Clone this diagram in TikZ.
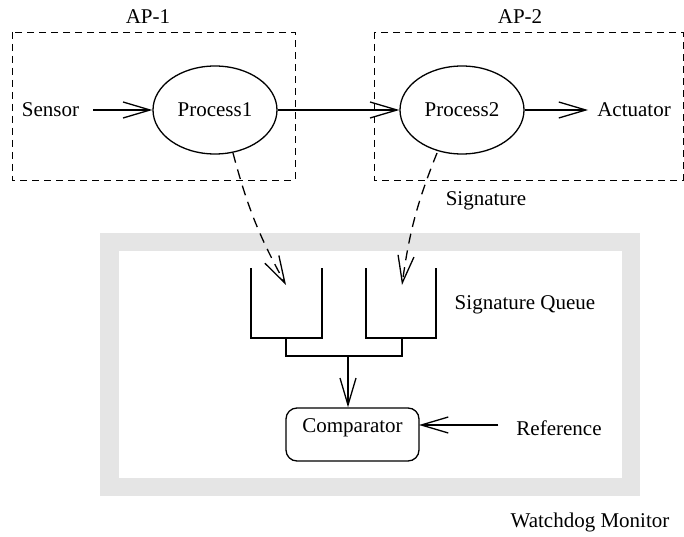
\documentclass[tikz,border=0pt]{standalone}
\usepackage{fontspec}
\setmainfont{Liberation Serif}
\usetikzlibrary{shapes.geometric,arrows.meta}
\definecolor{framegray}{RGB}{229,229,229}
\tikzset{
  lbl/.style={inner sep=0pt, font=\fontsize{21}{25}\selectfont},
  proc/.style={draw, ellipse, line width=1.3pt, minimum width=124pt, minimum height=88pt,
               inner sep=0pt, font=\fontsize{21}{25}\selectfont},
  apbox/.style={draw, line width=0.8pt, dash pattern=on 7pt off 5pt},
  flow/.style={line width=1.3pt, -{Straight Barb[length=27pt,width=16pt,line width=1.3pt]}},
  sig/.style={line width=1.3pt, dash pattern=on 10pt off 7pt,
              -{Straight Barb[length=27pt,width=16pt,line width=1.3pt]}},
  wire/.style={line width=1.3pt},
  cmpbox/.style={draw, line width=1.3pt, rounded corners=11pt, minimum width=133pt,
                 minimum height=53pt, inner sep=0pt},
}
\begin{document}
\begin{tikzpicture}[x=1pt,y=-1pt]
\useasboundingbox (0,0) rectangle (684,537);

% watchdog monitor frame
\fill[framegray] (100,233) rectangle (640,496);
\fill[white] (119,251) rectangle (622,478);

% application partitions
\draw[apbox] (12,32) rectangle (295,180);
\draw[apbox] (374,32) rectangle (683,180);
\node[lbl] (ap1) at (148,17) {AP-1};
\node[lbl] (ap2) at (520,17) {AP-2};

% processes
\node[proc] (p1) at (215,110) {Process1};
\node[proc] (p2) at (462,110) {Process2};
\node[lbl] (sensor) at (50.5,110) {Sensor};
\node[lbl] (act) at (634,110) {Actuator};

\draw[flow, shorten <=14pt] (sensor.east) -- (p1.west);
\draw[flow] (p1.east) -- (p2.west);
\draw[flow, shorten >=9pt] (p2.east) -- (act.west);

% signature queues
\coordinate (q1a) at (251,268);
\coordinate (q1b) at (251,338);
\coordinate (q1c) at (322,338);
\coordinate (q1d) at (322,268);
\coordinate (q2a) at (366,268);
\coordinate (q2b) at (366,338);
\coordinate (q2c) at (436,338);
\coordinate (q2d) at (436,268);
\draw[wire] (q1a) -- (q1b) -- (q1c) -- (q1d);
\draw[wire] (q2a) -- (q2b) -- (q2c) -- (q2d);

\coordinate (q1in) at (286,285);
\coordinate (q2in) at (402,285);
\coordinate (p1out) at (233,153);
\coordinate (p2out) at (437,153);
\draw[sig] (p1out) to[bend right=7] (q1in);
\draw[sig] (p2out) to[bend right=7] (q2in);

\node[lbl] (siglbl) at (486,201) {Signature};
\node[lbl] (queuelbl) at (525,305) {Signature Queue};

% merge into comparator
\coordinate (m1) at (286,338);
\coordinate (m2) at (402,338);
\coordinate (j1) at (286,356);
\coordinate (j2) at (402,356);
\coordinate (jm) at (348,356);
\draw[wire] (m1) -- (j1) -- (j2) -- (m2);

\node[cmpbox] (cmp) at (352.5,434.5) {};
\node[lbl] (cmptxt) at (352.5,428) {Comparator};
\draw[flow] (jm) -- (jm |- cmp.north);

\node[lbl] (ref) at (559,428) {Reference};
\coordinate (refend) at (419,425);
\draw[flow, shorten <=18pt] (ref.west |- refend) -- (refend);

\node[lbl] (wd) at (590,522) {Watchdog Monitor};
\end{tikzpicture}
\end{document}
